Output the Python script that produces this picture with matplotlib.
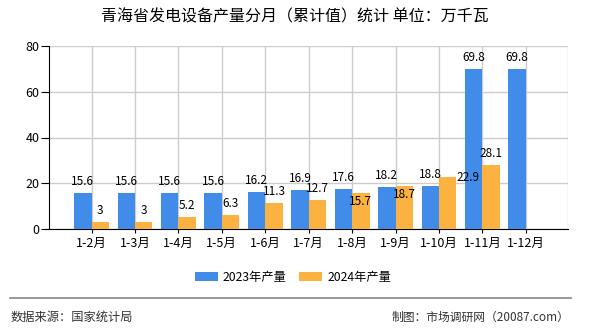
import matplotlib.pyplot as plt
import numpy as np

plt.rcParams['font.family'] = ['Noto Sans CJK SC', 'DejaVu Sans']

months = ["1-2月", "1-3月", "1-4月", "1-5月", "1-6月", "1-7月",
          "1-8月", "1-9月", "1-10月", "1-11月", "1-12月"]
output_2023 = [15.6, 15.6, 15.6, 15.6, 16.2, 16.9, 17.6, 18.2, 18.8, 69.8, 69.8]
output_2024 = [3, 3, 5.2, 6.3, 11.3, 12.7, 15.7, 18.7, 22.9, 28.1]

# label nudges (pixels) so neighbouring values don't collide
nudge_2024 = [(0, 0), (0, 0), (0, 0), (0, 0), (0, 0), (0, 0),
              (0, -20), (0, -20), (20, -12), (0, 0)]

blue = "#418be9"
orange = "#fbb241"

fig = plt.figure(figsize=(5.9, 3.3), dpi=100)
ax = fig.add_axes([49 / 590, 1 - 229 / 330, 519 / 590, 183 / 330])

x = np.arange(len(months))
w = 0.4
ax.bar(x[:len(output_2023)] - w / 2, output_2023, w, color=blue, label="2023年产量", zorder=3)
ax.bar(x[:len(output_2024)] + w / 2, output_2024, w, color=orange, label="2024年产量", zorder=3)

for i, v in enumerate(output_2023):
    ax.annotate(f"{v:g}", (x[i] - w / 2, v), xytext=(0, 5), textcoords="offset pixels",
                ha="center", va="bottom", fontsize=8.5, zorder=4)
for i, v in enumerate(output_2024):
    dx, dy = nudge_2024[i]
    ax.annotate(f"{v:g}", (x[i] + w / 2, v), xytext=(dx, 5 + dy), textcoords="offset pixels",
                ha="center", va="bottom", fontsize=8.5, zorder=4)

ax.set_xlim(-0.98, len(months) - 0.03)
ax.set_ylim(0, 80)
ax.set_yticks([0, 20, 40, 60, 80])
ax.set_xticks(x)
ax.set_xticklabels(months, fontsize=9)
ax.tick_params(axis="x", length=3, pad=3)
ax.tick_params(axis="y", length=6, labelsize=9, pad=1)
ax.set_xticks(list(x) + [len(months) - 0.03], minor=True)
ax.grid(True, which="major", color="#cccccc", linewidth=1, zorder=0)
ax.grid(True, which="minor", axis="x", color="#cccccc", linewidth=1, zorder=0)
ax.tick_params(axis="x", which="minor", length=0)
for s in ["top", "right"]:
    ax.spines[s].set_visible(False)
ax.spines["left"].set_color("black")
ax.spines["bottom"].set_color("black")

fig.text(0.5, 1 - 17 / 330, "青海省发电设备产量分月（累计值）统计 单位：万千瓦",
         ha="center", va="center", fontsize=11.5)

fig.legend(loc="center", bbox_to_anchor=(293 / 590, 1 - 277 / 330), ncol=2, frameon=False,
           fontsize=8.8, handlelength=1.9, handleheight=0.8, handletextpad=0.4, columnspacing=1.0)

fig.add_artist(plt.Line2D([10 / 590, 571 / 590], [1 - 298 / 330] * 2, color="#888888", linewidth=1.2))
fig.text(11 / 590, 1 - 317 / 330, "数据来源：国家统计局", ha="left", va="center", fontsize=8.8, color="#333333")
fig.text(569 / 590, 1 - 317 / 330, "制图：市场调研网（20087.com）", ha="right", va="center", fontsize=8.5, color="#333333")

fig.savefig("out.png", dpi=100)
